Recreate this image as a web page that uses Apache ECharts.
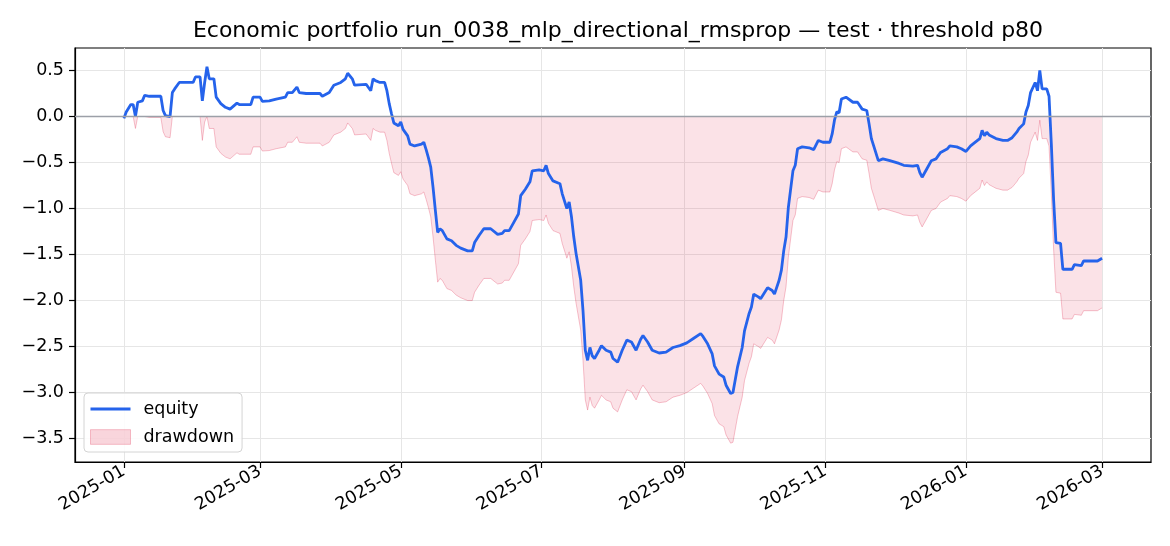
<!DOCTYPE html>
<html>
<head>
<meta charset="utf-8">
<script src="https://cdn.jsdelivr.net/npm/echarts@6.0.0/dist/echarts.min.js"></script>
<style>
  html, body { margin: 0; padding: 0; background: #fff; }
  #chart { width: 1170px; height: 546px; }
</style>
</head>
<body>
<div id="chart"></div>
<script>
// equity curve
const dates = [
  '2025-01-01','2025-01-02','2025-01-04','2025-01-05','2025-01-06','2025-01-07','2025-01-09','2025-01-10',
  '2025-01-12','2025-01-17','2025-01-18','2025-01-19','2025-01-21','2025-01-22','2025-01-23','2025-01-25',
  '2025-01-31','2025-02-01','2025-02-03','2025-02-04','2025-02-05','2025-02-06','2025-02-07','2025-02-09',
  '2025-02-10','2025-02-12','2025-02-14','2025-02-16','2025-02-19','2025-02-20','2025-02-25','2025-02-26',
  '2025-03-01','2025-03-02','2025-03-05','2025-03-08','2025-03-12','2025-03-13','2025-03-15','2025-03-17',
  '2025-03-18','2025-03-21','2025-03-27','2025-03-28','2025-03-31','2025-04-02','2025-04-05','2025-04-07',
  '2025-04-08','2025-04-10','2025-04-11','2025-04-16','2025-04-18','2025-04-19','2025-04-20','2025-04-22',
  '2025-04-24','2025-04-25','2025-04-26','2025-04-27','2025-04-28','2025-04-30','2025-05-01','2025-05-02',
  '2025-05-04','2025-05-05','2025-05-07','2025-05-10','2025-05-11','2025-05-12','2025-05-13','2025-05-14',
  '2025-05-15','2025-05-16','2025-05-17','2025-05-18','2025-05-19','2025-05-21','2025-05-23','2025-05-25',
  '2025-05-27','2025-05-30','2025-06-01','2025-06-02','2025-06-04','2025-06-06','2025-06-09','2025-06-12',
  '2025-06-14','2025-06-15','2025-06-17','2025-06-19','2025-06-21','2025-06-22','2025-06-24','2025-06-26',
  '2025-06-27','2025-06-30','2025-07-02','2025-07-03','2025-07-04','2025-07-06','2025-07-09','2025-07-10',
  '2025-07-12','2025-07-13','2025-07-14','2025-07-15','2025-07-16','2025-07-18','2025-07-19','2025-07-20',
  '2025-07-21','2025-07-22','2025-07-23','2025-07-24','2025-07-26','2025-07-27','2025-07-29','2025-07-31',
  '2025-08-01','2025-08-03','2025-08-05','2025-08-07','2025-08-09','2025-08-11','2025-08-13','2025-08-14',
  '2025-08-16','2025-08-18','2025-08-21','2025-08-24','2025-08-27','2025-08-30','2025-09-02','2025-09-05',
  '2025-09-08','2025-09-09','2025-09-11','2025-09-13','2025-09-14','2025-09-16','2025-09-18','2025-09-19',
  '2025-09-21','2025-09-22','2025-09-24','2025-09-26','2025-09-27','2025-09-29','2025-09-30','2025-10-01',
  '2025-10-03','2025-10-04','2025-10-07','2025-10-09','2025-10-10','2025-10-12','2025-10-13','2025-10-14',
  '2025-10-15','2025-10-16','2025-10-18','2025-10-19','2025-10-20','2025-10-22','2025-10-25','2025-10-27',
  '2025-10-29','2025-10-31','2025-11-03','2025-11-04','2025-11-05','2025-11-06','2025-11-07','2025-11-08',
  '2025-11-10','2025-11-13','2025-11-15','2025-11-17','2025-11-19','2025-11-20','2025-11-21','2025-11-22',
  '2025-11-24','2025-11-26','2025-11-29','2025-12-03','2025-12-05','2025-12-09','2025-12-11','2025-12-12',
  '2025-12-13','2025-12-15','2025-12-17','2025-12-19','2025-12-21','2025-12-24','2025-12-25','2025-12-28',
  '2025-12-30','2026-01-01','2026-01-03','2026-01-06','2026-01-07','2026-01-08','2026-01-09','2026-01-10',
  '2026-01-11','2026-01-14','2026-01-17','2026-01-19','2026-01-21','2026-01-23','2026-01-24','2026-01-26',
  '2026-01-27','2026-01-28','2026-01-29','2026-01-31','2026-02-01','2026-02-02','2026-02-03','2026-02-05',
  '2026-02-06','2026-02-07','2026-02-08','2026-02-09','2026-02-11','2026-02-12','2026-02-16','2026-02-17',
  '2026-02-20','2026-02-21','2026-02-27','2026-03-01'
]
const equity = [
  -0.02, 0.05, 0.13, 0.13, 0.00, 0.155, 0.17, 0.23,
  0.22, 0.22, 0.065, 0.01, 0.00, 0.26, 0.30, 0.37,
  0.37, 0.43, 0.43, 0.17, 0.37, 0.54, 0.41, 0.41,
  0.21, 0.14, 0.10, 0.08, 0.145, 0.13, 0.13, 0.21,
  0.21, 0.165, 0.17, 0.19, 0.21, 0.26, 0.26, 0.32,
  0.26, 0.25, 0.25, 0.22, 0.26, 0.34, 0.37, 0.41,
  0.47, 0.41, 0.34, 0.35, 0.28, 0.41, 0.39, 0.37,
  0.37, 0.28, 0.14, 0.03, -0.07, -0.10, -0.06, -0.14,
  -0.21, -0.30, -0.32, -0.30, -0.28, -0.36, -0.45, -0.55,
  -0.77, -1.02, -1.26, -1.22, -1.24, -1.33, -1.35, -1.40,
  -1.43, -1.46, -1.46, -1.37, -1.29, -1.22, -1.22, -1.28,
  -1.27, -1.24, -1.24, -1.15, -1.06, -0.86, -0.79, -0.71,
  -0.59, -0.58, -0.59, -0.53, -0.62, -0.70, -0.73, -0.84,
  -1.00, -0.93, -1.09, -1.31, -1.49, -1.78, -2.11, -2.54,
  -2.65, -2.51, -2.60, -2.63, -2.54, -2.49, -2.54, -2.56,
  -2.63, -2.67, -2.54, -2.43, -2.45, -2.54, -2.42, -2.38,
  -2.45, -2.54, -2.57, -2.56, -2.51, -2.49, -2.46, -2.41,
  -2.36, -2.39, -2.47, -2.58, -2.71, -2.80, -2.83, -2.92,
  -3.01, -3.00, -2.72, -2.51, -2.33, -2.14, -2.07, -1.93,
  -1.96, -1.98, -1.86, -1.89, -1.93, -1.78, -1.67, -1.46,
  -1.31, -0.99, -0.59, -0.53, -0.35, -0.33, -0.34, -0.36,
  -0.26, -0.28, -0.28, -0.19, -0.04, 0.05, 0.04, 0.19,
  0.21, 0.155, 0.155, 0.08, 0.065, -0.08, -0.24, -0.32,
  -0.48, -0.46, -0.48, -0.51, -0.53, -0.54, -0.53, -0.61,
  -0.66, -0.57, -0.48, -0.46, -0.39, -0.35, -0.32, -0.33,
  -0.35, -0.38, -0.32, -0.26, -0.24, -0.15, -0.21, -0.17,
  -0.20, -0.24, -0.26, -0.26, -0.23, -0.17, -0.13, -0.08,
  0.05, 0.12, 0.26, 0.37, 0.28, 0.50, 0.30, 0.30,
  0.22, -0.30, -0.91, -1.37, -1.38, -1.66, -1.66, -1.61,
  -1.62, -1.57, -1.57, -1.54
]
const xTickMonths = ['2025-01','2025-03','2025-05','2025-07','2025-09','2025-11','2026-01','2026-03']
const yTicks = [-3.5, -3.0, -2.5, -2.0, -1.5, -1.0, -0.5, 0.0, 0.5]

const parseDay = (s) => {
  const p = s.split('-').map(Number)
  return new Date(p[0], p[1] - 1, p[2] || 1).getTime()
}

// drawdown = equity minus its running peak
let peak = -Infinity
const drawdown = equity.map(v => {
  peak = Math.max(peak, v)
  return +(v - peak).toFixed(3)
})

const times = dates.map(parseDay)
const xTicks = xTickMonths.map(parseDay)
const tx = times[times.length - 1] - times[0]
const yLo = Math.min(...drawdown, ...equity)
const yHi = Math.max(...drawdown, ...equity)
const ty = yHi - yLo

const font = 'DejaVu Sans'
const fmtY = v => (v < -1e-9 ? '\u2212' : '') + Math.abs(v).toFixed(1)
const fmtX = v => {
  const d = new Date(v)
  return d.getFullYear() + '-' + String(d.getMonth() + 1).padStart(2, '0')
}

const chart = echarts.init(document.getElementById('chart'), null, { renderer: 'canvas' })
chart.setOption({
  animation: false,
  backgroundColor: '#fff',
  textStyle: { fontFamily: font },
  title: {
    text: 'Economic portfolio run_0038_mlp_directional_rmsprop \u2014 test \u00b7 threshold p80',
    left: 613,
    top: 15,
    textAlign: 'center',
    textStyle: { fontFamily: font, fontSize: 22, fontWeight: 'normal', color: '#000' }
  },
  grid: {
    left: 75, right: 19, top: 48, bottom: 84,
    show: true, borderColor: '#000', borderWidth: 1.2, backgroundColor: 'transparent'
  },
  legend: {
    orient: 'vertical',
    left: 84, top: 393,
    padding: [7, 8, 6, 6],
    itemGap: 10,
    itemWidth: 40, itemHeight: 17,
    backgroundColor: 'rgba(255,255,255,0.85)',
    borderColor: '#d4d4d4', borderWidth: 1, borderRadius: 4,
    textStyle: { fontFamily: font, fontSize: 17.5, color: '#000', padding: [0, 0, 0, 8] },
    data: [
      { name: 'equity', icon: 'path://M0 0H40V3H0Z', itemStyle: { color: '#2563eb', borderWidth: 0 } },
      { name: 'drawdown', icon: 'path://M0 0H38V14H0Z',
        itemStyle: { color: 'rgba(220,20,60,0.18)', borderColor: 'rgba(220,20,60,0.25)', borderWidth: 1 } }
    ]
  },
  xAxis: {
    type: 'value',
    min: times[0] - 0.05 * tx,
    max: times[times.length - 1] + 0.05 * tx,
    axisLine: { show: true, onZero: false, lineStyle: { color: '#000', width: 1.2 } },
    axisTick: { show: true, length: 6, lineStyle: { color: '#000', width: 1.2 }, customValues: xTicks },
    axisLabel: {
      customValues: xTicks,
      formatter: fmtX, rotate: 30, margin: 8,
      fontFamily: font, fontSize: 17.5, color: '#000'
    },
    splitLine: { show: true, lineStyle: { color: '#e6e6e6', width: 1 } }
  },
  yAxis: {
    type: 'value',
    min: yLo - 0.05 * ty,
    max: yHi + 0.05 * ty,
    axisLine: { show: true, lineStyle: { color: '#000', width: 1.2 } },
    axisTick: { show: true, length: 6, lineStyle: { color: '#000', width: 1.2 }, customValues: yTicks },
    axisLabel: { customValues: yTicks, formatter: fmtY, margin: 11, fontFamily: font, fontSize: 17.5, color: '#000' },
    splitLine: { show: true, lineStyle: { color: '#e6e6e6', width: 1 } }
  },
  series: [
    {
      name: 'drawdown',
      type: 'line',
      data: times.map((t, i) => [t, drawdown[i]]),
      showSymbol: false, symbol: 'none',
      color: 'rgba(220,20,60,0.18)',
      lineStyle: { color: 'rgba(220,20,60,0.25)', width: 1 },
      areaStyle: { color: 'rgba(220,20,60,0.18)', origin: 0 },
      markLine: {
        silent: true, symbol: 'none', label: { show: false },
        lineStyle: { color: '#9ca0a8', width: 1.3, type: 'solid' },
        data: [{ yAxis: 0 }]
      },
      z: 2
    },
    {
      name: 'equity',
      type: 'line',
      data: times.map((t, i) => [t, equity[i]]),
      showSymbol: false, symbol: 'none',
      color: '#2563eb',
      lineStyle: { color: '#2563eb', width: 2.8 },
      z: 3
    }
  ]
})
</script>
</body>
</html>
